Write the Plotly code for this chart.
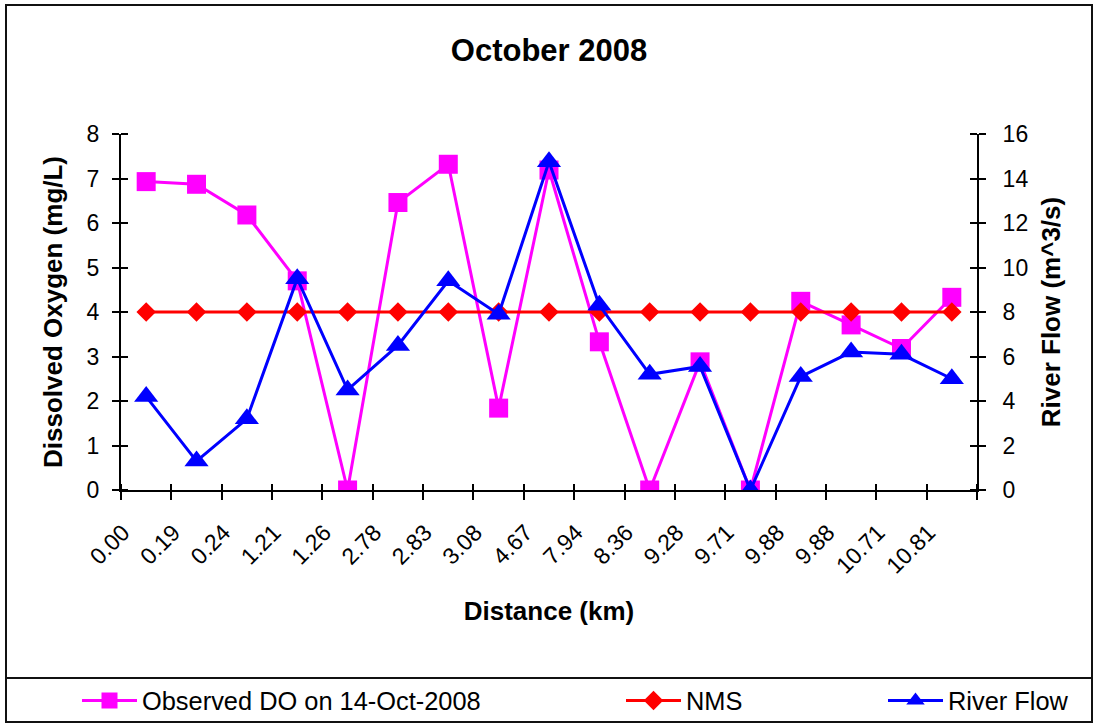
import numpy as np
import plotly.graph_objects as go

# Sampling stations (distance along the river, km)
distance_labels = ["0.00", "0.19", "0.24", "1.21", "1.26", "2.78", "2.83", "3.08", "4.67",
                   "7.94", "8.36", "9.28", "9.71", "9.88", "9.88", "10.71", "10.81"]

# Observed dissolved oxygen (mg/L)
observed_do = [6.93, 6.87, 6.18, 4.7, 0.0, 6.46, 7.32, 1.84, 7.19,
               3.33, 0.0, 2.88, 0.0, 4.24, 3.71, 3.18, 4.33]

# National minimum standard (mg/L)
nms = [4] * len(distance_labels)

# River flow (m^3/s)
river_flow = [4.2, 1.3, 3.2, 9.5, 4.5, 6.5, 9.4, 7.9, 14.75,
              8.3, 5.2, 5.55, 0.0, 5.1, 6.2, 6.1, 5.0]

W, H = 1100, 724
L, R, T, B = 121, 977, 134, 490  # plot area in pixels


def px_x(p):
    return (p - L) / (R - L)


def px_y(p):
    return (B - p) / (B - T)


FONT = "Liberation Sans, Arial, sans-serif"
pos = np.arange(len(distance_labels))
bounds = np.arange(len(distance_labels) + 1) - 0.5

fig = go.Figure()

fig.add_trace(go.Scatter(
    x=pos, y=observed_do, name="Observed DO on 14-Oct-2008",
    mode="lines+markers",
    line=dict(color="#FF00FF", width=3),
    marker=dict(symbol="square", size=19, color="#FF00FF"),
    legend="legend",
))
fig.add_trace(go.Scatter(
    x=pos, y=nms, name="NMS",
    mode="lines+markers",
    line=dict(color="#FF0000", width=3),
    marker=dict(symbol="diamond", size=15, color="#FF0000"),
    legend="legend2",
))
fig.add_trace(go.Scatter(
    x=pos, y=river_flow, name="River Flow", yaxis="y2",
    mode="lines+markers",
    line=dict(color="#0000FF", width=3),
    marker=dict(symbol="triangle-up", size=21, color="#0000FF"),
    legend="legend3",
))

axis_common = dict(
    showline=True, linewidth=2, linecolor="black",
    showgrid=False, zeroline=False,
    tickcolor="black", tickwidth=2,
)

fig.update_layout(
    width=W, height=H, autosize=False,
    margin=dict(l=L, r=W - R, t=T, b=H - B, pad=0, autoexpand=False),
    paper_bgcolor="white", plot_bgcolor="white",
    font=dict(family=FONT, color="black"),
    title=dict(
        text="October 2008", x=px_x(549), xref="paper", xanchor="center",
        y=1 - 50 / H, yanchor="middle",
        font=dict(family=FONT, size=31, color="black", weight="bold"),
    ),
    xaxis=dict(
        **axis_common,
        range=[-0.5, len(distance_labels) - 0.5],
        tickmode="array", tickvals=bounds,
        ticktext=distance_labels + [""],
        ticks="outside", ticklen=8, tickangle=-45,
        tickfont=dict(family=FONT, size=23, color="black"),
        ticklabelshift=2, ticklabelstandoff=10,
        minor=dict(tickmode="array", tickvals=bounds + 1e-9, ticks="inside",
                   ticklen=6, tickwidth=2, tickcolor="black"),
        title=dict(text="Distance (km)", standoff=24,
                   font=dict(family=FONT, size=26, color="black", weight="bold")),
    ),
    yaxis=dict(
        **axis_common,
        range=[0, 8], tickmode="linear", tick0=0, dtick=1,
        ticks="outside", ticklen=7, ticklabelstandoff=8,
        tickfont=dict(family=FONT, size=23, color="black"),
        minor=dict(tickmode="array", tickvals=np.arange(0, 9) + 1e-9, ticks="inside",
                   ticklen=7, tickwidth=2, tickcolor="black"),
        title=dict(text="Dissolved Oxygen (mg/L)", standoff=17,
                   font=dict(family=FONT, size=26, color="black", weight="bold")),
    ),
    yaxis2=dict(
        **axis_common,
        overlaying="y", side="right", anchor="x",
        range=[0, 16], tickmode="linear", tick0=0, dtick=2,
        ticks="outside", ticklen=7, ticklabelstandoff=12,
        tickfont=dict(family=FONT, size=23, color="black"),
        minor=dict(tickmode="array", tickvals=np.arange(0, 17, 2) + 1e-9, ticks="inside",
                   ticklen=7, tickwidth=2, tickcolor="black"),
        title=dict(text="River Flow (m^3/s)", standoff=14,
                   font=dict(family=FONT, size=26, color="black", weight="bold")),
    ),
    showlegend=True,
)

legend_style = dict(
    orientation="h", xanchor="left", yanchor="middle", y=px_y(701),
    bgcolor="rgba(0,0,0,0)", borderwidth=0, itemwidth=55,
    font=dict(family=FONT, size=25.4, color="black"),
)
fig.update_layout(
    legend=dict(**legend_style, x=px_x(77)),
    legend2=dict(**legend_style, x=px_x(621)),
    legend3=dict(**legend_style, x=px_x(883)),
)

# Chart frame and legend frame
frame = dict(type="rect", xref="paper", yref="paper",
             line=dict(color="#111111", width=2), fillcolor="rgba(0,0,0,0)", layer="below")
fig.add_shape(**frame, x0=px_x(6), x1=px_x(1092), y0=px_y(678), y1=px_y(5))
fig.add_shape(**frame, x0=px_x(6), x1=px_x(1092), y0=px_y(722), y1=px_y(678))

# Let the figure fill the page exactly
page_css = "document.documentElement.style.margin='0';document.body.style.margin='0';"
fig.write_html("out.html", post_script=page_css)
